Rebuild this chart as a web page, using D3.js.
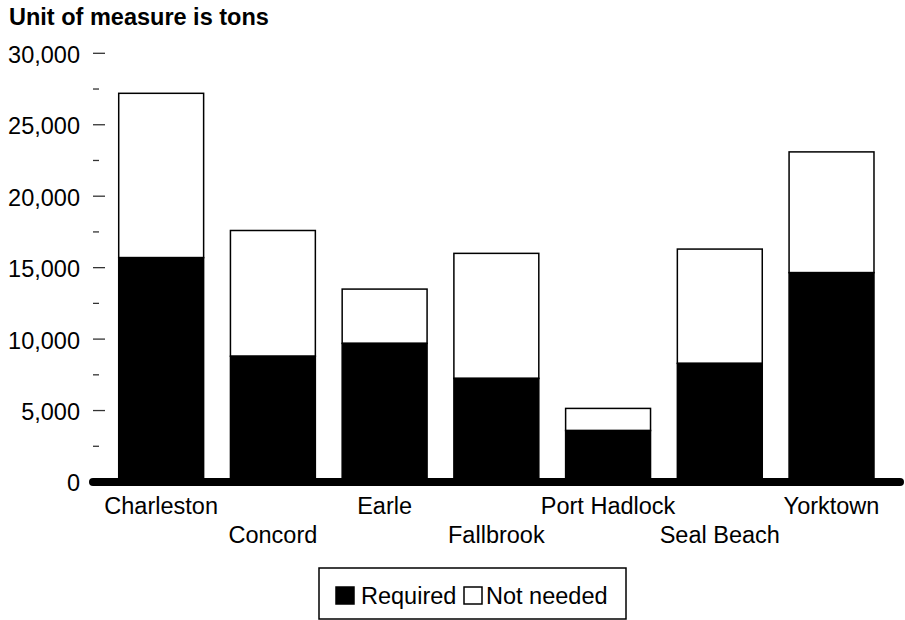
<!DOCTYPE html>
<html><head><meta charset="utf-8">
<script src="https://cdn.jsdelivr.net/npm/d3@7"></script>
<style>body{margin:0;background:#fff}svg{display:block;font-family:"Liberation Sans",Arial,sans-serif}</style>
</head><body><svg id="c" width="905" height="620"></svg>
<script>
const categories = ["Charleston","Concord","Earle","Fallbrook","Port Hadlock","Seal Beach","Yorktown"];
const required = [15700, 8800, 9700, 7250, 3600, 8300, 14650];
const notNeeded = [11500, 8800, 3800, 8750, 1550, 8000, 8450];
const majorTicks = [0, 5000, 10000, 15000, 20000, 25000, 30000];
const minorTicks = [2500, 7500, 12500, 17500, 22500, 27500];
const seriesNames = ["Required", "Not needed"];
const title = "Unit of measure is tons";

const svg = d3.select("#c");
const FS = 23.5;
const x = d3.scaleBand().domain(categories).range([91.9, 900.8]).padding(0.24);
const y = d3.scaleLinear().domain([0, 30000]).range([482, 53.3]);

svg.append("text").attr("x", 9).attr("y", 25).attr("font-size", FS).attr("font-weight", "bold").text(title);

// y ticks
const g = svg.append("g");
g.selectAll("line.maj").data(majorTicks).join("line")
  .attr("x1", 93).attr("x2", 105).attr("y1", d => y(d)).attr("y2", d => y(d))
  .attr("stroke", "#333").attr("stroke-width", 1.3);
g.selectAll("line.min").data(minorTicks).join("line")
  .attr("x1", 93).attr("x2", 99).attr("y1", d => y(d)).attr("y2", d => y(d))
  .attr("stroke", "#333").attr("stroke-width", 1.3);
const fmt = d3.format(",");
g.selectAll("text").data(majorTicks).join("text")
  .attr("x", 80).attr("y", d => y(d)).attr("dy", "0.4em").attr("text-anchor", "end")
  .attr("font-size", FS).text(d => fmt(d));

// bars
const data = categories.map((c, i) => ({c, r: required[i], n: notNeeded[i]}));
const bars = svg.append("g");
bars.selectAll("rect.n").data(data).join("rect")
  .attr("x", d => x(d.c)).attr("width", x.bandwidth())
  .attr("y", d => y(d.r + d.n)).attr("height", d => y(d.r) - y(d.r + d.n))
  .attr("fill", "#fff").attr("stroke", "#000").attr("stroke-width", 1.5);
bars.selectAll("rect.r").data(data).join("rect")
  .attr("x", d => x(d.c)).attr("width", x.bandwidth())
  .attr("y", d => y(d.r)).attr("height", d => y(0) - y(d.r))
  .attr("fill", "#000").attr("stroke", "#000").attr("stroke-width", 1.5);

// baseline
svg.append("line").attr("x1", 93).attr("x2", 900).attr("y1", y(0)).attr("y2", y(0))
  .attr("stroke", "#000").attr("stroke-width", 8).attr("stroke-linecap", "round");

// x labels
svg.append("g").selectAll("text").data(categories).join("text")
  .attr("x", d => x(d) + x.bandwidth() / 2)
  .attr("y", (d, i) => i % 2 === 0 ? 514 : 543)
  .attr("text-anchor", "middle").attr("font-size", FS).text(d => d);

// legend
const lg = svg.append("g");
lg.append("rect").attr("x", 319).attr("y", 568).attr("width", 307).attr("height", 51)
  .attr("fill", "#fff").attr("stroke", "#000").attr("stroke-width", 1.5);
const items = [{name: seriesNames[0], fill: "#000", sx: 336, tx: 361},
               {name: seriesNames[1], fill: "#fff", sx: 464, tx: 486}];
lg.selectAll("rect.k").data(items).join("rect")
  .attr("x", d => d.sx).attr("y", 587).attr("width", 18).attr("height", 17)
  .attr("fill", d => d.fill).attr("stroke", "#000").attr("stroke-width", 1.5);
lg.selectAll("text").data(items).join("text")
  .attr("x", d => d.tx).attr("y", 604).attr("font-size", FS).text(d => d.name);
</script></body></html>
